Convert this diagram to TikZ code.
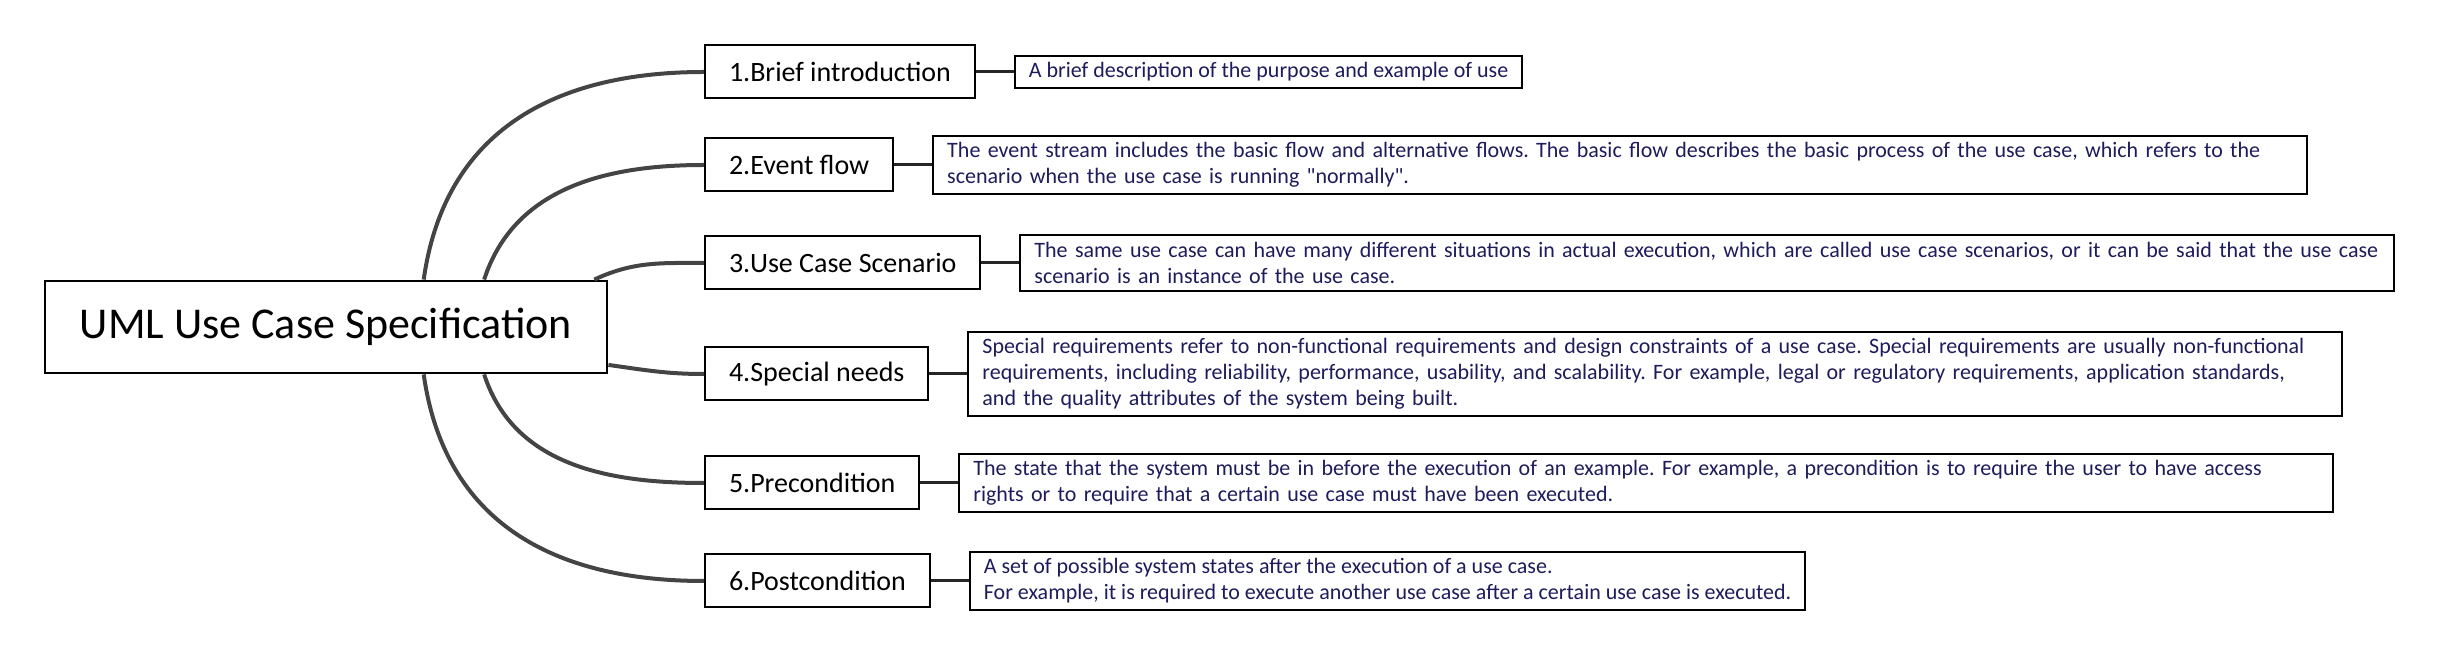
\documentclass[tikz,border=0pt]{standalone}
\usepackage{fontspec}
\setmainfont{Carlito}
\usepackage{xcolor}
\usepackage{tikz}
\usetikzlibrary{positioning,calc}
\definecolor{linegray}{RGB}{68,68,68}
\definecolor{descnavy}{RGB}{30,28,92}
\frenchspacing

\begin{document}
\begin{tikzpicture}[x=0.5pt, y=-0.5pt, node distance=19pt]
    \tikzstyle{rootbox}=[draw=black, line width=1.4pt, fill=white, minimum width=281pt, minimum height=46pt, font=\fontsize{22}{26}\selectfont]
    \tikzstyle{topic}=[draw=black, line width=1pt, fill=white, minimum height=26.5pt, inner xsep=12pt, anchor=west, font=\fontsize{14}{17}\selectfont]
    \tikzstyle{desc}=[draw=black, line width=1pt, fill=white, inner xsep=7pt, inner ysep=3.5pt, align=left, text=descnavy, font=\fontsize{11}{12.9}\selectfont]
    \tikzstyle{wide}=[text width=673pt]
    \tikzstyle{branch}=[draw=linegray, line width=2pt]
    \tikzstyle{link}=[draw=black!85, line width=1.5pt]
    \useasboundingbox (0,0) rectangle (2447,672);
    \node[rootbox] (root) at (326,327) {UML Use Case Specification};
    \node[topic] (intro) at (704,72) {1.Brief introduction};
    \node[topic] (flow) at (704,165) {2.Event flow};
    \node[topic] (scen) at (704,263) {3.Use Case Scenario};
    \node[topic] (needs) at (704,374) {4.Special needs};
    \node[topic] (pre) at (704,483) {5.Precondition};
    \node[topic] (post) at (704,581) {6.Postcondition};
    \node[desc, right=of intro] (introtxt) {A brief description of the purpose and example of use};
    \node[desc, wide, right=of flow] (flowtxt) {\mbox{The event stream includes the basic flow and alternative flows. The basic flow describes the basic process of the use case, which refers to the}\\\mbox{scenario when the use case is running \textquotedbl normally\textquotedbl.}};
    \node[desc, wide, right=of scen] (scentxt) {\mbox{The same use case can have many different situations in actual execution, which are called use case scenarios, or it can be said that the use case}\\\mbox{scenario is an instance of the use case.}};
    \node[desc, wide, right=of needs] (needstxt) {\mbox{Special requirements refer to non-functional requirements and design constraints of a use case. Special requirements are usually non-functional}\\\mbox{requirements, including reliability, performance, usability, and scalability. For example, legal or regulatory requirements, application standards,}\\\mbox{and the quality attributes of the system being built.}};
    \node[desc, wide, right=of pre] (pretxt) {\mbox{The state that the system must be in before the execution of an example. For example, a precondition is to require the user to have access}\\\mbox{rights or to require that a certain use case must have been executed.}};
    \node[desc, right=of post] (posttxt) {A set of possible system states after the execution of a use case.\\For example, it is required to execute another use case after a certain use case is executed.};
    % curved branches out of the root
    \draw[branch] ($(root.north west)!0.673!(root.north east)$) to[out=82, in=180, looseness=1.1] (intro.west);
    \draw[branch] ($(root.north west)!0.78!(root.north east)$) to[out=72, in=180] (flow.west);
    \draw[branch] ($(root.north west)!0.975!(root.north east)$) to[out=25, in=180] (scen.west);
    \draw[branch] ($(root.north east)!0.9!(root.south east)$) to[out=-8, in=180] (needs.west);
    \draw[branch] ($(root.south west)!0.78!(root.south east)$) to[out=-72, in=180] (pre.west);
    \draw[branch] ($(root.south west)!0.673!(root.south east)$) to[out=-82, in=180, looseness=1.1] (post.west);
    % topic to text
    \draw[link] (intro) -- (introtxt);
    \draw[link] (flow) -- (flowtxt);
    \draw[link] (scen) -- (scentxt);
    \draw[link] (needs) -- (needstxt);
    \draw[link] (pre) -- (pretxt);
    \draw[link] (post) -- (posttxt);
\end{tikzpicture}
\end{document}
